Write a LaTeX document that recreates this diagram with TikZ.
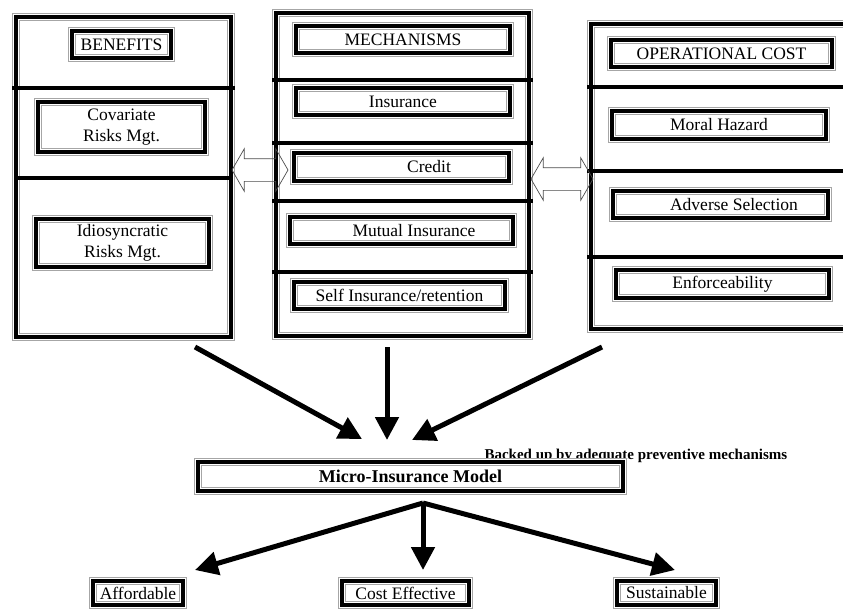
\documentclass[tikz,border=0pt]{standalone}
\usepackage{fontspec}
\setmainfont{Liberation Serif}
\usetikzlibrary{arrows.meta,shapes.arrows}

\begin{document}
\begin{tikzpicture}[x=1pt, y=-1pt,
  rbox/.style = {draw, line width=3.5pt, preaction={draw=gray!70, line width=8pt}, preaction={draw=white, line width=6pt}, inner sep=0pt, align=center, font=\fontsize{17.5}{21}\selectfont},
  divline/.style = {line width=4pt},
  fat/.style = {line width=5pt, -{Triangle[width=23pt, length=23pt]}},
  twoway/.style = {draw=gray!60!black, line width=0.7pt, shape=double arrow, double arrow head extend=10pt, double arrow tip angle=120, double arrow head indent=0pt, inner xsep=0pt, inner ysep=11pt}]
\useasboundingbox (0,0) rectangle (843,611);

\node[rbox, minimum width=215pt, minimum height=320pt] (p1) at (123.5,177) {};
\node[rbox, minimum width=253pt, minimum height=323pt] (p2) at (402.5,174.5) {};
\node[rbox, minimum width=259pt, minimum height=305pt] (p3) at (720.5,176.5) {};
\draw[divline] (12,88) -- (235,88);
\draw[divline] (15,178) -- (230,178);
\draw[divline] (272,80) -- (533,80);
\draw[divline] (272,143) -- (533,143);
\draw[divline] (272,201) -- (533,201);
\draw[divline] (272,272) -- (533,272);
\draw[divline] (587,87) -- (843,87);
\draw[divline] (587,171) -- (843,171);
\draw[divline] (587,257) -- (843,257);

\node[rbox, minimum width=99pt, minimum height=27pt] (b0) at (121.5,44.5) {BENEFITS};
\node[rbox, minimum width=167pt, minimum height=50pt] (b1) at (121.5,127) {Covariate\\Risks Mgt.};
\node[rbox, minimum width=173pt, minimum height=48pt] (b2) at (122.5,243) {Idiosyncratic\\Risks Mgt.};
\node[rbox, minimum width=214pt, minimum height=27pt] (m0) at (403,39.5) {MECHANISMS};
\node[rbox, minimum width=214pt, minimum height=27pt] (m1) at (403,101.5) {Insurance};
\node[rbox, minimum width=215pt, minimum height=28pt] (m2) at (401.5,167) {\hspace*{55pt}Credit};
\node[rbox, minimum width=223pt, minimum height=27pt] (m3) at (401.5,230.5) {\hspace*{25pt}Mutual Insurance};
\node[rbox, minimum width=211pt, minimum height=27pt] (m4) at (399.5,295.5) {Self Insurance/retention};
\node[rbox, minimum width=221pt, minimum height=27pt] (c0) at (721.5,53.5) {OPERATIONAL COST};
\node[rbox, minimum width=214pt, minimum height=28pt] (c1) at (719,125) {Moral Hazard};
\node[rbox, minimum width=215pt, minimum height=27pt] (c2) at (720.5,204.5) {\hspace*{27pt}Adverse Selection};
\node[rbox, minimum width=213pt, minimum height=28pt] (c3) at (722.5,284) {Enforceability};

\node[twoway, minimum height=56pt] (l1) at (260,170) {};
\node[twoway, minimum height=62pt] (l2) at (562,179) {};

\node[anchor=base west, font=\bfseries\fontsize{15}{18}\selectfont] (note) at (481,459) {Backed up by adequate preventive mechanisms};
\node[rbox, minimum width=425pt, minimum height=29pt, font=\bfseries\fontsize{18}{21}\selectfont] (mi) at (410.5,476.5) {Micro-Insurance Model};

\node[rbox, minimum width=90pt, minimum height=24pt] (o1) at (138,593) {Affordable};
\node[rbox, minimum width=127pt, minimum height=24pt] (o2) at (405.5,593) {Cost Effective};
\node[rbox, minimum width=99pt, minimum height=24pt] (o3) at (666.5,593) {Sustainable};

\coordinate (s1) at (195,347);
\coordinate (s2) at (387,347);
\coordinate (s3) at (602,347);
\coordinate (e1) at (362,439);
\coordinate (e2) at (387,440);
\coordinate (e3) at (412,440);
\coordinate (hub) at (423,503);
\coordinate (d1) at (195,570);
\coordinate (d2) at (423,570);
\coordinate (d3) at (675,570);

\draw[fat] (s1) to (e1);
\draw[fat] (s2) to (e2);
\draw[fat] (s3) to (e3);
\draw[fat] (hub) to (d1);
\draw[fat] (hub) to (d2);
\draw[fat] (hub) to (d3);
\end{tikzpicture}
\end{document}
